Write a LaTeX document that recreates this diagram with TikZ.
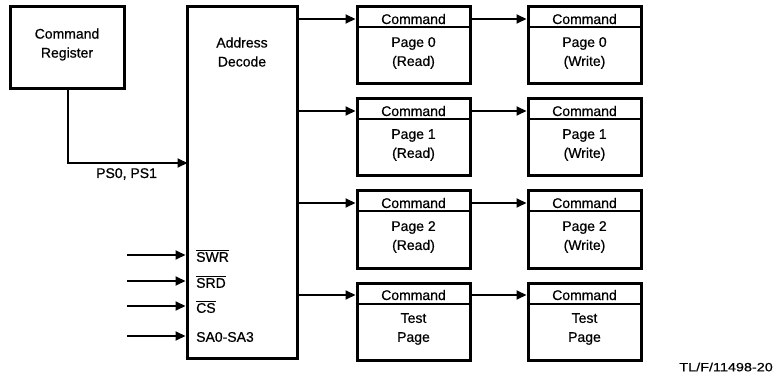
\documentclass[tikz,border=0pt]{standalone}
\usepackage{fontspec}
\setmainfont{Liberation Sans}
\newfontfamily\diagfont[FakeBold=0.6]{Liberation Sans}
\newfontfamily\tagfont[FakeBold=0.6,FakeStretch=1.2]{Liberation Sans}
\usetikzlibrary{arrows.meta}
\begin{document}
\begin{tikzpicture}[x=1pt,y=-1pt,
  box/.style={draw,line width=3pt,inner sep=0pt},
  lbl/.style={font=\diagfont\fontsize{14}{19}\selectfont,align=center,inner sep=0pt},
  pin/.style={font=\diagfont\fontsize{14}{19}\selectfont,anchor=west,inner sep=0pt},
  conn/.style={line width=2pt,-{Triangle[length=10pt,width=9pt]}},
  divider/.style={line width=2pt}]
\useasboundingbox (0,0) rectangle (779,374);
% Command register
\node[box,minimum width=114pt,minimum height=82pt] (cr) at (67,48) {};
\node[lbl] (crt) at (67,44.5) {Command\\Register};
% Address decode
\node[box,minimum width=110pt,minimum height=351pt] (ad) at (242,182.5) {};
\node[lbl] (adt) at (242,52) {Address\\Decode};
% PS0,PS1
\coordinate (psc) at (68,163);
\coordinate (pse) at (187.5,163);
\draw[conn] (cr.south -| psc) -- (psc) -- (pse);
\node[pin] (ps) at (96,174) {PS0, PS1};
% page boxes
\foreach \r/\top/\ta/\tb/\wa/\wb in {0/7/Page 0/(Read)/Page 0/(Write),1/99/Page 1/(Read)/Page 1/(Write),2/191/Page 2/(Read)/Page 2/(Write),3/283/Test/Page/Test/Page}{
  \node[box,minimum width=113pt,minimum height=77pt] (r\r) at (413.5,\top+38.5) {};
  \node[box,minimum width=113pt,minimum height=77pt] (w\r) at (584.5,\top+38.5) {};
  \draw[divider] ([yshift=-22pt]r\r.north west) -- ([yshift=-22pt]r\r.north east);
  \draw[divider] ([yshift=-22pt]w\r.north west) -- ([yshift=-22pt]w\r.north east);
  \node[lbl] (rc\r) at (413.5,\top+12) {Command};
  \node[lbl] (wc\r) at (584.5,\top+12) {Command};
  \node[lbl] (rb\r) at (413.5,\top+46) {\ta\\\tb};
  \node[lbl] (wb\r) at (584.5,\top+46) {\wa\\\wb};
  \coordinate (ar\r) at (297,\top+12);
  \draw[conn] (ar\r) -- (ar\r -| r\r.west);
  \draw[conn] (ar\r -| r\r.east) -- (ar\r -| w\r.west);
}
% input pins
\foreach \n/\y/\t in {swr/255/$\overline{\mbox{SWR}}$,srd/281/$\overline{\mbox{SRD}}$,cs/306/$\overline{\mbox{CS}}$,sa/336/SA0-SA3}{
  \coordinate (\n s) at (127,\y);
  \draw[conn] (\n s) -- (\n s -| ad.west);
  \node[pin] (\n) at (196,\y+1) {\t};
}
\node[font=\tagfont\fontsize{12}{14}\selectfont,anchor=east,inner sep=0pt] (tl) at (773,367) {TL/F/11498-20};
\end{tikzpicture}
\end{document}
